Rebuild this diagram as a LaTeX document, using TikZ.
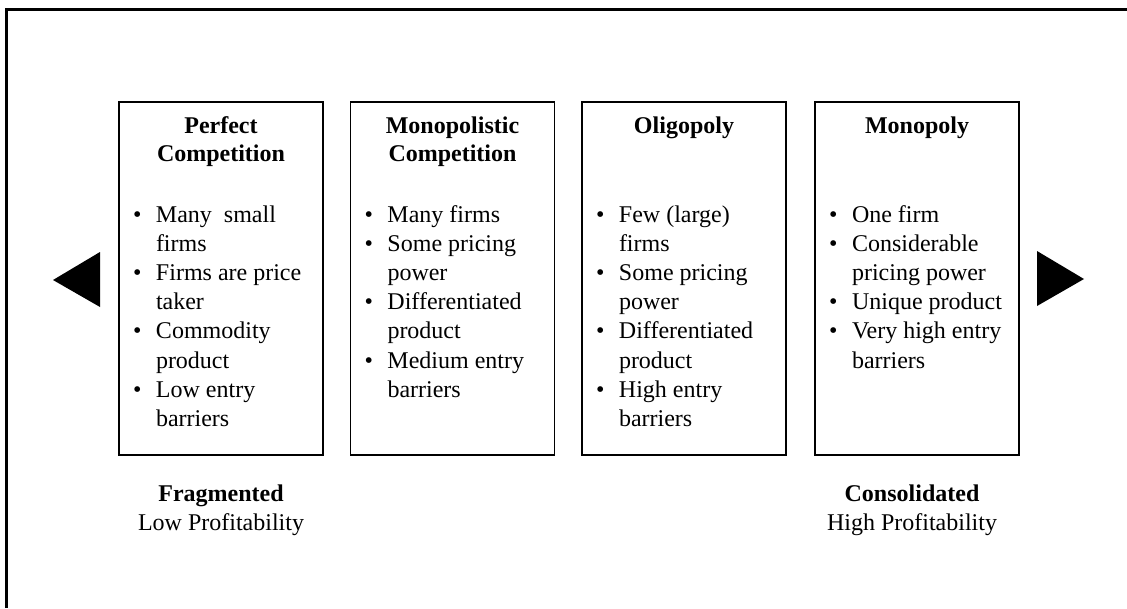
\documentclass[tikz,border=0pt]{standalone}
\usepackage{fontspec}
\setmainfont{Liberation Serif}
\newcommand{\bodyfont}{\fontsize{24}{28.4}\selectfont}
\newcommand{\listfont}{\fontsize{24}{29.2}\selectfont}
\tikzset{
  mbox/.style={draw, line width=1.3pt, minimum width=204pt, minimum height=353pt, inner sep=0pt},
  txt/.style={inner sep=0pt, outer sep=0pt},
  frameline/.style={line width=2.5pt},
  arrowtri/.style={fill=black}
}
\begin{document}
\begin{tikzpicture}[x=1pt,y=-1pt]
\useasboundingbox (0,0) rectangle (1127,608);
% outer frame (only top and left visible)
\draw[frameline] (6.5,608) -- (6.5,9.3) -- (1127,9.3);
% boxes
\node[mbox] (b1) at (221,278.5) {};
\node[mbox] (b2) at (452.5,278.5) {};
\node[mbox] (b3) at (684,278.5) {};
\node[mbox] (b4) at (917,278.5) {};
% titles
\node[txt, anchor=north, font=\bodyfont\bfseries] (t1) at (221,113.6) {\begin{tabular}{@{}c@{}}Perfect\\Competition\end{tabular}};
\node[txt, anchor=north, font=\bodyfont\bfseries] (t2) at (452.5,113.6) {\begin{tabular}{@{}c@{}}Monopolistic\\Competition\end{tabular}};
\node[txt, anchor=north, font=\bodyfont\bfseries] (t3) at (684,113.6) {\begin{tabular}{@{}c@{}}Oligopoly\end{tabular}};
\node[txt, anchor=north, font=\bodyfont\bfseries] (t4) at (917,113.6) {\begin{tabular}{@{}c@{}}Monopoly\end{tabular}};
% bullet lists
\node[txt, anchor=north west, font=\listfont] (l1) at (133,201.6) {\begin{tabular}{@{}p{23pt}@{}l@{}}
\textbullet & Many\ \ small\\ & firms\\
\textbullet & Firms are price\\ & taker\\
\textbullet & Commodity\\ & product\\
\textbullet & Low entry\\ & barriers\end{tabular}};
\node[txt, anchor=north west, font=\listfont] (l2) at (364.5,201.6) {\begin{tabular}{@{}p{23pt}@{}l@{}}
\textbullet & Many firms\\
\textbullet & Some pricing\\ & power\\
\textbullet & Differentiated\\ & product\\
\textbullet & Medium entry\\ & barriers\end{tabular}};
\node[txt, anchor=north west, font=\listfont] (l3) at (596,201.6) {\begin{tabular}{@{}p{23pt}@{}l@{}}
\textbullet & Few (large)\\ & firms\\
\textbullet & Some pricing\\ & power\\
\textbullet & Differentiated\\ & product\\
\textbullet & High entry\\ & barriers\end{tabular}};
\node[txt, anchor=north west, font=\listfont] (l4) at (829,201.6) {\begin{tabular}{@{}p{23pt}@{}l@{}}
\textbullet & One firm\\
\textbullet & Considerable\\ & pricing power\\
\textbullet & Unique product\\
\textbullet & Very high entry\\ & barriers\end{tabular}};
% bottom labels
\node[txt, anchor=north, font=\bodyfont] (fr) at (221,482.1) {\begin{tabular}{@{}c@{}}\textbf{Fragmented}\\Low Profitability\end{tabular}};
\node[txt, anchor=north, font=\bodyfont] (co) at (912,482.1) {\begin{tabular}{@{}c@{}}\textbf{Consolidated}\\High Profitability\end{tabular}};
% triangles
\fill[arrowtri] (53,280) -- (100,252) -- (100,307) -- cycle;
\fill[arrowtri] (1084,279) -- (1037,251) -- (1037,306) -- cycle;
\end{tikzpicture}
\end{document}
